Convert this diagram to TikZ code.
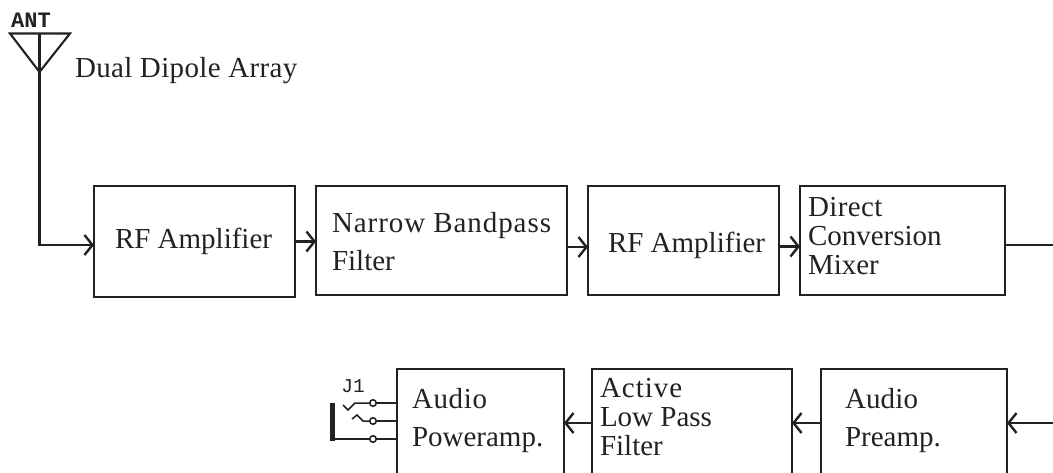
\documentclass[tikz,border=0pt]{standalone}
\usepackage{fontspec}
\setmainfont{Liberation Serif}
\newfontfamily\monof{Liberation Mono}
\usetikzlibrary{arrows.meta}
\definecolor{ink}{HTML}{222222}
\newcommand{\spc}[1]{\addfontfeature{LetterSpace=#1}}
\tikzset{
  every picture/.style={x=1pt,y=-1pt},
  box/.style={draw=ink,line width=2.1pt,fill=white,rectangle,inner sep=0pt,outer sep=0pt},
  lbl/.style={anchor=base west,align=left,inner sep=0pt,outer sep=0pt,text=ink,font=\fontsize{29}{29}\selectfont},
  wire/.style={draw=ink,line width=2.1pt},
  arr/.style={wire,-{Straight Barb[length=8pt,width=20pt,line width=2.4pt]}},
  pin/.style={circle,draw=ink,line width=1.6pt,fill=white,minimum size=6.5pt,inner sep=0pt,outer sep=0pt}
}
\newcommand{\bx}[5]{\node[box,minimum width=#4pt-#2pt,minimum height=#5pt-#3pt] (#1) at ({(#2+#4)/2},{(#3+#5)/2}) {};}
\begin{document}
\begin{tikzpicture}
\useasboundingbox (0,0) rectangle (1053,472);
\clip (0,0) rectangle (1053,472);
\fill[white] (0,0) rectangle (1053,472);
% boxes
\bx{rfa}{94}{186}{295}{297}
\bx{nbp}{316}{186}{567}{295}
\bx{rfb}{588}{186}{779}{295}
\bx{mix}{800}{186}{1005}{295}
\bx{pwr}{397}{369}{564}{477}
\bx{lpf}{592}{369}{792}{477}
\bx{pre}{821}{369}{1007}{477}
% labels
\node[lbl] (trfa) at (115,248) {RF Amplifier};
\node[lbl] (tnbp) at (332,270) {\spc{3.2}Narrow Bandpass\\[9pt]Filter};
\node[lbl] (trfb) at (608,252.5) {RF Amplifier};
\node[lbl] (tmix) at (808,274) {\spc{1.4}Direct\\Conversion\\Mixer};
\node[lbl] (tpwr) at (412,446) {\spc{2.3}Audio\\[9pt]Poweramp.};
\node[lbl] (tlpf) at (600,455) {\spc{3.4}Active\\Low Pass\\Filter};
\node[lbl] (tpre) at (845,446) {\spc{0.5}Audio\\[9pt]Preamp.};
\node[lbl] (tdip) at (75,77) {\spc{1.2}Dual Dipole Array};
\node[anchor=base,inner sep=0pt,text=ink,font=\monof\bfseries\fontsize{22}{22}\selectfont] (tant) at (31,27) {ANT};
\node[anchor=base,inner sep=0pt,text=ink,font=\monof\fontsize{19.5}{20}\selectfont] (tj) at (353,392) {J1};
% antenna
\coordinate (antl) at (10,33.5);
\coordinate (antr) at (70,33.5);
\coordinate (antt) at (39.5,33.5);
\coordinate (antb) at (39.5,72);
\draw[wire,line join=miter] (antl) -- (antr) -- (antb) -- cycle;
\draw[arr] (antt) -- (antb) -- (39.5,245) -- (rfa.west |- 0,245);
% chain
\draw[arr] (rfa.east) -- (rfa.east -| nbp.west);
\draw[arr] ([yshift=-6.5pt]nbp.east) -- ([yshift=-6.5pt]nbp.east -| rfb.west);
\draw[arr] ([yshift=-6pt]rfb.east) -- ([yshift=-6pt]rfb.east -| mix.west);
\coordinate (outa) at (1053,245);
\draw[wire] (mix.east |- outa) -- (outa);
\coordinate (outb) at (1053,423);
\draw[arr] (outb) -- (pre.east);
\draw[arr] (pre.west) -- (lpf.east);
\draw[arr] (lpf.west) -- (pwr.east);
% jack
\node[pin] (pa) at (373,403) {};
\node[pin] (pb) at (373,421) {};
\node[pin] (pc) at (373,439) {};
\draw[wire] (pa) -- (pa -| pwr.west);
\draw[wire] (pb) -- (pb -| pwr.west);
\draw[wire] (pc) -- (pc -| pwr.west);
\draw[wire,line width=1.5pt] (pa) -- (355,403) -- (348,410) -- (343,405);
\draw[wire,line width=1.5pt] (pb) -- (363,421) -- (357,415) -- (352,419);
\draw[draw=ink,line width=5pt] (332,403) -- (332,441);
\draw[wire] (332,439) -- (pc);
\end{tikzpicture}
\end{document}
